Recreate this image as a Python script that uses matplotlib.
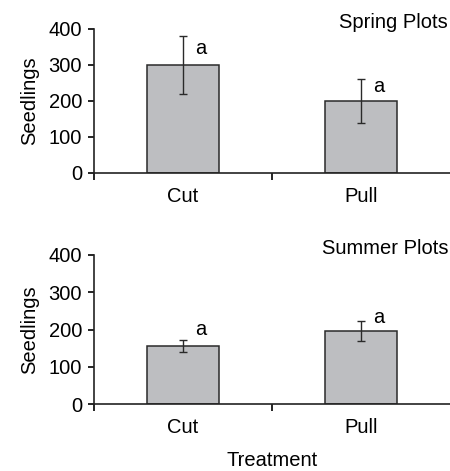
import matplotlib.pyplot as plt
import numpy as np

plt.rcParams['font.family'] = ['Liberation Sans', 'DejaVu Sans']

treatments = ["Cut", "Pull"]
spring_mean = [300, 200]
spring_err = [80, 60]
summer_mean = [156, 195]
summer_err = [16, 27]
letters = ["a", "a"]
# where the significance letters sit (data units)
spring_letter_y = [347, 240]
summer_letter_y = [201, 232]

bar_color = "#bdbec1"
fs = 14.5

fig = plt.figure(figsize=(4.5, 4.71), dpi=100)
ax1 = fig.add_axes([94/450, 1 - 173/471, 356/450, 144/471])
ax2 = fig.add_axes([94/450, 1 - 404/471, 356/450, 149/471])

def panel(ax, means, errs, letter_y, title):
    x = np.arange(len(treatments))
    ax.bar(x, means, width=0.4, color=bar_color, edgecolor="#2a2a2a", linewidth=1.1, zorder=2)
    ax.errorbar(x, means, yerr=errs, fmt="none", ecolor="#2a2a2a", elinewidth=1.0,
                capsize=3, capthick=1.0, zorder=3)
    for xi, ly, lab in zip(x, letter_y, letters):
        ax.text(xi + 0.1, ly, lab, fontsize=fs, ha="center", va="center")
    ax.set_xlim(-0.5, 1.5)
    ax.set_ylim(0, 400)
    ax.set_yticks([0, 100, 200, 300, 400])
    ax.set_xticks(x)
    ax.set_xticklabels(treatments)
    ax.set_xticks([-0.5, 0.5], minor=True)
    ax.tick_params(axis="x", which="major", length=0, pad=10, labelsize=fs)
    ax.tick_params(axis="x", which="minor", length=5, width=1.2, direction="out")
    ax.tick_params(axis="y", length=4.5, width=1.2, direction="out", pad=4, labelsize=fs)
    for s in ["top", "right"]:
        ax.spines[s].set_visible(False)
    for s in ["left", "bottom"]:
        ax.spines[s].set_linewidth(1.2)
        ax.spines[s].set_color("#222222")
    ax.set_ylabel("Seedlings", fontsize=fs, labelpad=7)
    ax.text(0.995, 1.045, title, transform=ax.transAxes, ha="right", va="center", fontsize=fs)

panel(ax1, spring_mean, spring_err, spring_letter_y, "Spring Plots")
panel(ax2, summer_mean, summer_err, summer_letter_y, "Summer Plots")
ax2.set_xlabel("Treatment", fontsize=fs, labelpad=10)

fig.savefig("out.png", dpi=100)
